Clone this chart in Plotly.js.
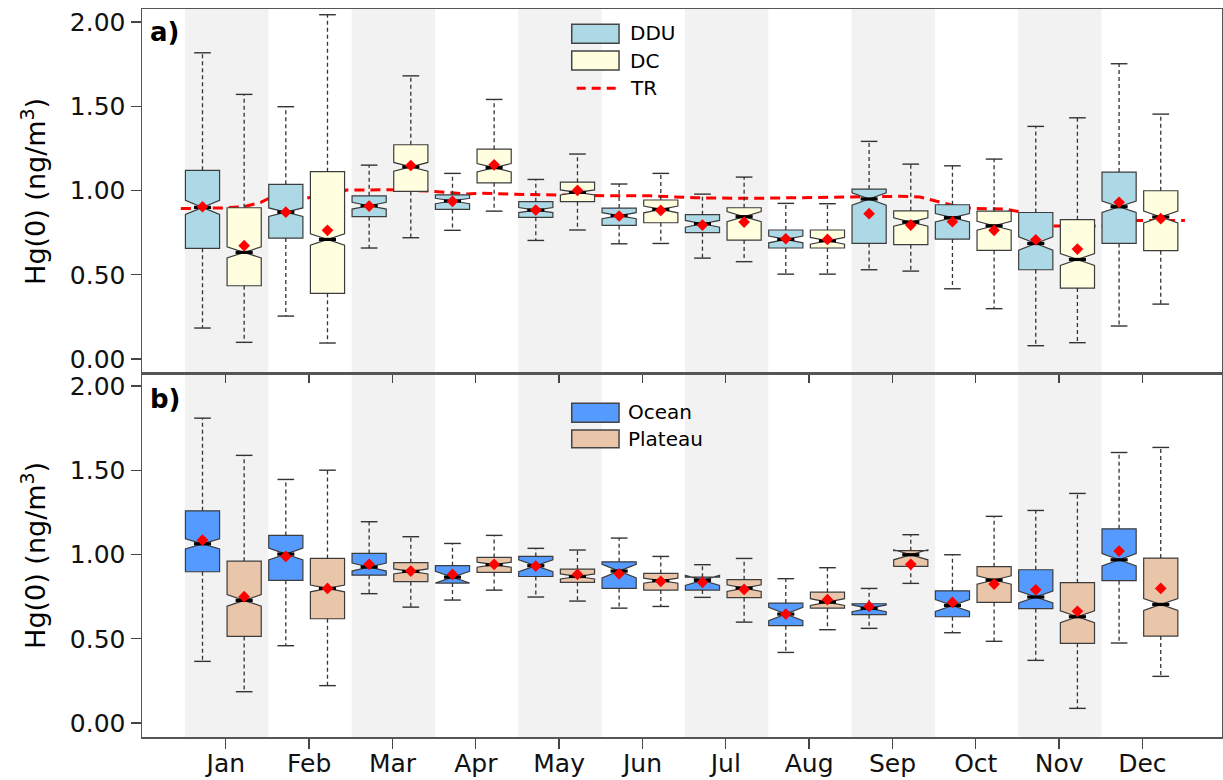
<!DOCTYPE html>
<html><head><meta charset="utf-8">
<script src="https://cdn.plot.ly/plotly-3.0.1.min.js"></script>
<style>body{margin:0;background:#fff}#chart{width:1223px;height:780px}</style>
</head><body><div id="chart"></div>
<script>
// ---------- DATA ----------
const months = ['Jan','Feb','Mar','Apr','May','Jun','Jul','Aug','Sep','Oct','Nov','Dec'];

// Panel a) DDU
const ddu_low  = [0.184,0.255,0.659,0.764,0.704,0.684,0.599,0.504,0.530,0.417,0.079,0.196];
const ddu_q1   = [0.657,0.718,0.845,0.888,0.841,0.793,0.750,0.659,0.686,0.712,0.530,0.686];
const ddu_med  = [0.900,0.872,0.910,0.938,0.884,0.851,0.803,0.710,0.950,0.839,0.686,0.904];
const ddu_q3   = [1.120,1.037,0.969,0.975,0.934,0.896,0.857,0.766,1.009,0.916,0.870,1.110];
const ddu_up   = [1.818,1.498,1.151,1.102,1.066,1.039,0.979,0.924,1.292,1.147,1.381,1.753];
const ddu_mean = [0.904,0.872,0.908,0.936,0.884,0.849,0.795,0.714,0.863,0.815,0.708,0.930];
const ddu_notch= [0.042,0.025,0.020,0.016,0.015,0.018,0.020,0.020,0.037,0.025,0.040,0.034];

// Panel a) DC
const dc_low   = [0.099,0.095,0.720,0.878,0.766,0.686,0.578,0.504,0.522,0.299,0.097,0.326];
const dc_q1    = [0.435,0.390,0.995,1.046,0.934,0.809,0.706,0.659,0.679,0.645,0.421,0.643];
const dc_med   = [0.633,0.710,1.141,1.136,0.989,0.888,0.845,0.702,0.813,0.791,0.591,0.843];
const dc_q3    = [0.898,1.112,1.272,1.246,1.050,0.944,0.898,0.766,0.880,0.878,0.827,0.999];
const dc_up    = [1.571,2.044,1.681,1.541,1.217,1.102,1.080,0.922,1.157,1.187,1.432,1.454];
const dc_mean  = [0.673,0.764,1.149,1.153,1.001,0.882,0.813,0.710,0.795,0.764,0.653,0.833];
const dc_notch = [0.033,0.034,0.026,0.025,0.015,0.020,0.030,0.020,0.025,0.026,0.035,0.035];

// Panel a) TR line (x in month units)
const tr_x = [-0.51,0.0,0.25,0.45,0.55,1.0,1.35,1.48,2.0,2.48,2.91,3.1,3.5,4.0,4.66,5.12,5.42,5.66,6.34,6.86,7.38,8.12,8.36,8.6,8.85,9.02,9.38,9.55,9.95,10.55,10.95,11.54];
const tr_y = [0.893,0.897,0.905,0.930,0.955,0.955,0.985,1.003,1.005,0.997,0.980,0.985,0.978,0.973,0.969,0.969,0.963,0.957,0.954,0.957,0.963,0.966,0.962,0.930,0.900,0.894,0.890,0.875,0.790,0.789,0.823,0.823];

// Panel b) Ocean
const oc_low   = [0.366,0.459,0.768,0.730,0.748,0.682,0.746,0.419,0.562,0.536,0.372,0.475];
const oc_q1    = [0.898,0.847,0.878,0.831,0.870,0.799,0.789,0.578,0.643,0.631,0.679,0.845];
const oc_med   = [1.064,1.003,0.926,0.866,0.934,0.902,0.847,0.647,0.681,0.698,0.748,0.969];
const oc_q3    = [1.260,1.114,1.007,0.934,0.989,0.957,0.866,0.712,0.708,0.785,0.910,1.153];
const oc_up    = [1.810,1.446,1.195,1.066,1.037,1.098,0.940,0.857,0.799,0.999,1.262,1.606];
const oc_mean  = [1.086,0.989,0.942,0.882,0.932,0.886,0.835,0.647,0.692,0.716,0.791,1.021];
const oc_notch = [0.030,0.035,0.024,0.035,0.035,0.040,0.030,0.040,0.020,0.035,0.035,0.037];

// Panel b) Plateau
const pl_low   = [0.186,0.222,0.688,0.789,0.724,0.692,0.599,0.554,0.829,0.485,0.087,0.277];
const pl_q1    = [0.514,0.619,0.839,0.894,0.835,0.789,0.744,0.682,0.930,0.716,0.473,0.516];
const pl_med   = [0.728,0.799,0.900,0.940,0.870,0.845,0.801,0.718,0.999,0.849,0.631,0.704];
const pl_q3    = [0.961,0.977,0.952,0.983,0.914,0.888,0.851,0.777,1.023,0.928,0.833,0.979];
const pl_up    = [1.589,1.501,1.106,1.114,1.027,0.989,0.977,0.922,1.118,1.227,1.363,1.636];
const pl_mean  = [0.750,0.799,0.902,0.942,0.882,0.841,0.793,0.732,0.942,0.825,0.663,0.799];
const pl_notch = [0.034,0.020,0.015,0.015,0.015,0.015,0.020,0.020,0.030,0.025,0.035,0.035];

const yTicks = [0, 0.5, 1.0, 1.5, 2.0];

// ---------- STYLE ----------
const FONT = 'DejaVu Sans, Liberation Sans, sans-serif';
const BOXW = 0.41, OFF = 0.25, CAPW = 0.2, MEDW = 0.205;
const XR = [-0.976, 11.985], YR = [-0.083, 2.078];
const EDGE = '#3c3c3c';
const C_DDU = '#add8e6', C_DC = '#ffffe0', C_OC = '#559bff', C_PL = '#e9c5aa';

function series(low,q1,med,q3,up,mean,notch){return {low,q1,med,q3,up,mean,notch};}
const DDU = series(ddu_low,ddu_q1,ddu_med,ddu_q3,ddu_up,ddu_mean,ddu_notch);
const DC  = series(dc_low,dc_q1,dc_med,dc_q3,dc_up,dc_mean,dc_notch);
const OC  = series(oc_low,oc_q1,oc_med,oc_q3,oc_up,oc_mean,oc_notch);
const PL  = series(pl_low,pl_q1,pl_med,pl_q3,pl_up,pl_mean,pl_notch);

function boxTrace(xa, ya, off, s, fill){
  return {type:'box', xaxis:xa, yaxis:ya, x: months.map((m,i)=>i+off),
    q1:s.q1, median:s.med, q3:s.q3, lowerfence:s.q1, upperfence:s.q3,
    notched:true, notchspan:s.notch, notchwidth:0.5, width:BOXW, whiskerwidth:0,
    fillcolor:fill, line:{color:EDGE, width:1.2}, boxpoints:false,
    showlegend:false, hoverinfo:'skip'};
}
function extras(xa, ya, list){
  const wx=[],wy=[],cx=[],cy=[],mx=[],my=[],ax=[],ay=[];
  list.forEach(([off,s])=>{
    months.forEach((m,i)=>{
      const p=i+off;
      wx.push(p,p,null,p,p,null); wy.push(s.q3[i],s.up[i],null,s.q1[i],s.low[i],null);
      cx.push(p-CAPW/2,p+CAPW/2,null,p-CAPW/2,p+CAPW/2,null);
      cy.push(s.up[i],s.up[i],null,s.low[i],s.low[i],null);
      mx.push(p-MEDW/2,p+MEDW/2,null); my.push(s.med[i],s.med[i],null);
      ax.push(p); ay.push(s.mean[i]);
    });
  });
  return [
    {type:'scatter',mode:'lines',xaxis:xa,yaxis:ya,x:wx,y:wy,line:{color:'#333',width:1.3,dash:'4px,3px'},showlegend:false,hoverinfo:'skip'},
    {type:'scatter',mode:'lines',xaxis:xa,yaxis:ya,x:cx,y:cy,line:{color:'#333',width:1.4},showlegend:false,hoverinfo:'skip'},
    {type:'scatter',mode:'lines',xaxis:xa,yaxis:ya,x:mx,y:my,line:{color:'#000',width:3.2},showlegend:false,hoverinfo:'skip'},
    {type:'scatter',mode:'markers',xaxis:xa,yaxis:ya,x:ax,y:ay,marker:{symbol:'diamond',size:9,color:'#ff0000',line:{width:0}},showlegend:false,hoverinfo:'skip'}
  ];
}

const traces = [
  {type:'scatter',mode:'lines',xaxis:'x',yaxis:'y',x:tr_x,y:tr_y,line:{color:'#ff0000',width:3,dash:'10px,6px'},showlegend:false,hoverinfo:'skip'},
  boxTrace('x','y3',-OFF,DDU,C_DDU), boxTrace('x','y3',OFF,DC,C_DC),
  ...extras('x','y3',[[-OFF,DDU],[OFF,DC]]),
  boxTrace('x2','y2',-OFF,OC,C_OC), boxTrace('x2','y2',OFF,PL,C_PL),
  ...extras('x2','y2',[[-OFF,OC],[OFF,PL]])
];

const shapes = [];
months.forEach((m,i)=>{
  if(i%2===0){
    ['x','x2'].forEach((xr,k)=>shapes.push({type:'rect',layer:'below',xref:xr,yref:(k?'y2':'y')+' domain',
      x0:i-0.46,x1:i+0.54,y0:0,y1:1,fillcolor:'#f2f2f2',line:{width:0}}));
  }
});
// custom legends (paper coords)
function patch(x0,x1,y0,y1,fill){shapes.push({type:'rect',xref:'paper',yref:'paper',x0,x1,y0,y1,fillcolor:fill,line:{color:'#444',width:1.5}});}
patch(0.3979,0.4417,0.9529,0.9790,C_DDU);
patch(0.3979,0.4417,0.9162,0.9423,C_DC);
shapes.push({type:'line',xref:'paper',yref:'paper',x0:0.4025,x1:0.4395,y0:0.891,y1:0.891,line:{color:'#ff0000',width:3,dash:'9px,6px'}});
patch(0.3979,0.4417,0.4323,0.4584,C_OC);
patch(0.3979,0.4417,0.3974,0.4217,C_PL);

function txt(t,x,y,size,extra){return Object.assign({text:t,xref:'paper',yref:'paper',x,y,xanchor:'left',yanchor:'middle',showarrow:false,font:{family:FONT,size,color:'#000'}},extra||{});}
const annotations = [
  txt('DDU',0.450,0.967,20), txt('DC',0.450,0.929,20), txt('TR',0.450,0.891,20),
  txt('Ocean',0.448,0.4468,20), txt('Plateau',0.448,0.4093,20),
  txt('<b>a)</b>',0.006,0.969,26), txt('<b>b)</b>',0.006,0.4643,26),
  txt('Hg(0) (ng/m<sup>3</sup>)',-0.101,0.75,27,{xanchor:'center',textangle:-90}),
  txt('Hg(0) (ng/m<sup>3</sup>)',-0.101,0.25,27,{xanchor:'center',textangle:-90})
];

const tickPos = months.map((m,i)=>i+0.03);
const axBase = {showline:true,mirror:true,linecolor:'#555',linewidth:1.5,showgrid:false,zeroline:false,
  ticks:'outside',tickcolor:'#444',tickwidth:1.3,tickfont:{family:FONT,size:25,color:'#111'},fixedrange:true};
const layout = {
  width:1223,height:780,margin:{l:142,r:1,t:9,b:43},
  paper_bgcolor:'#fff',plot_bgcolor:'rgba(0,0,0,0)',showlegend:false,
  font:{family:FONT},
  xaxis:Object.assign({},axBase,{domain:[0,1],anchor:'y',range:XR,tickvals:tickPos,ticktext:months,showticklabels:false,ticklen:8}),
  yaxis:Object.assign({},axBase,{domain:[0.5,1],anchor:'x',range:YR,tickvals:yTicks,tickformat:'.2f',ticklen:10}),
  yaxis3:{overlaying:'y',anchor:'x',range:YR,visible:false,fixedrange:true},
  xaxis2:Object.assign({},axBase,{domain:[0,1],anchor:'y2',range:XR,tickvals:tickPos,ticktext:months,ticklen:10,ticklabelstandoff:-7}),
  yaxis2:Object.assign({},axBase,{domain:[0,0.5],anchor:'x2',range:YR,tickvals:yTicks,tickformat:'.2f',ticklen:10}),
  boxmode:'overlay',
  shapes, annotations
};
Plotly.newPlot('chart',traces,layout,{displayModeBar:false,staticPlot:true});
</script></body></html>
